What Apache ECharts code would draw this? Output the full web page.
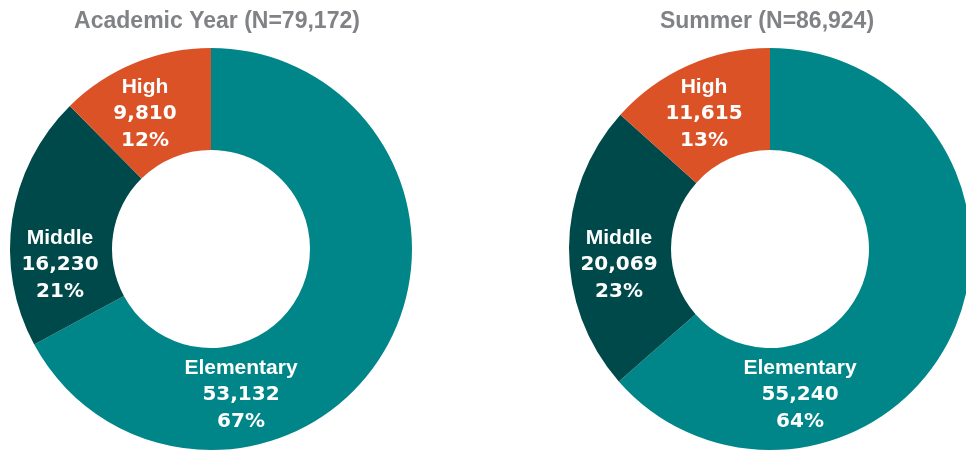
<!DOCTYPE html>
<html>
<head>
<meta charset="utf-8">
<script src="https://cdn.jsdelivr.net/npm/echarts@6/dist/echarts.min.js"></script>
<style>
  html, body { margin: 0; padding: 0; background: #fff; }
  #chart { width: 966px; height: 451px; }
</style>
</head>
<body>
<div id="chart"></div>
<script>
// data
const categories = ['Elementary', 'Middle', 'High'];
const academicValues = [53132, 16230, 9810];
const academicPct = [67, 21, 12];
const summerValues = [55240, 20069, 11615];
const summerPct = [64, 23, 13];
const panelTitles = ['Academic Year (N=79,172)', 'Summer (N=86,924)'];
const colors = ['#008689', '#00494a', '#dc5227'];

// where each label block sits, relative to the donut centre
const labelOffsets = [[30, 146], [-151, 16], [-66, -135]];

const chart = echarts.init(document.getElementById('chart'));

function makePie(values, pct, center) {
    return {
        type: 'pie',
        center: center,
        radius: [99, 201],
        startAngle: 90,
        clockwise: true,
        silent: true,
        animation: false,
        emphasis: { disabled: true },
        labelLine: { show: false },
        label: {
            show: true,
            position: 'center',
            formatter: p => '{a|' + p.name + '}\n{b|' + p.value.toLocaleString('en-US') + '}\n{b|' +
                pct[p.dataIndex] + '%}',
            rich: {
                a: { color: '#fff', fontFamily: 'Liberation Sans', fontWeight: 'bold', fontSize: 21, lineHeight: 27 },
                b: { color: '#fff', fontFamily: 'DejaVu Sans', fontWeight: 'bold', fontSize: 20, lineHeight: 27 }
            }
        },
        labelLayout: p => ({ dx: labelOffsets[p.dataIndex][0], dy: labelOffsets[p.dataIndex][1] }),
        data: values.map((v, i) => ({ name: categories[i], value: v, itemStyle: { color: colors[i] } }))
    };
}

const titleStyle = { color: '#808285', fontFamily: 'Liberation Sans', fontWeight: 'bold', fontSize: 23 };

chart.setOption({
    animation: false,
    title: [
        { text: panelTitles[0], left: 212, top: 5, textAlign: 'center', textStyle: titleStyle },
        { text: panelTitles[1], left: 762, top: 5, textAlign: 'center', textStyle: titleStyle }
    ],
    series: [
        makePie(academicValues, academicPct, [211, 249]),
        makePie(summerValues, summerPct, [770, 249])
    ]
});
</script>
</body>
</html>
